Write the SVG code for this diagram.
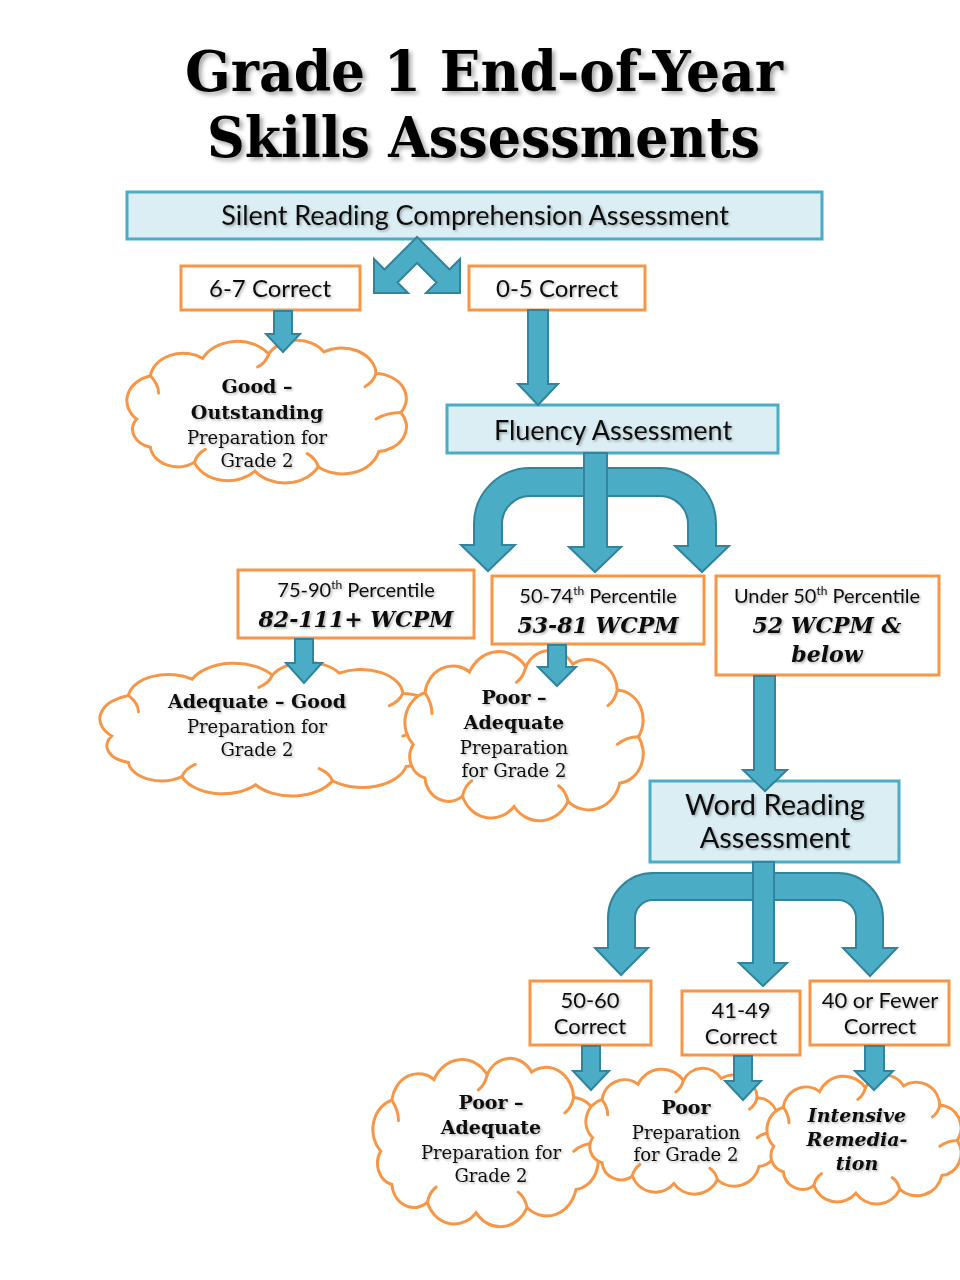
<svg xmlns="http://www.w3.org/2000/svg" xmlns:xlink="http://www.w3.org/1999/xlink" width="960" height="1280" viewBox="0 0 960 1280">
<defs>
<style>
.bb{fill:#DBEEF4;stroke:#4BACC6;stroke-width:3}
.ob{fill:#fff;stroke:#F79646;stroke-width:3}
.ar{fill:#4BACC6;stroke:#31849B;stroke-width:2;stroke-linejoin:miter}
.t{font-family:Lato,"Liberation Sans",sans-serif;fill:#111;text-anchor:middle}
.s{font-family:"DejaVu Serif","Liberation Serif",serif;fill:#111;text-anchor:middle;font-size:18px}
.sb{font-weight:bold;font-size:19px}
.wc{font-family:"DejaVu Serif","Liberation Serif",serif;font-weight:bold;font-style:italic;font-size:22px;fill:#111;text-anchor:middle}
.ti{font-family:"DejaVu Serif","Liberation Serif",serif;font-weight:bold;font-size:56px;fill:#000}
</style>
<filter id="sh" x="-5%" y="-20%" width="110%" height="150%"><feDropShadow dx="1.5" dy="1.5" stdDeviation="1" flood-color="#000" flood-opacity="0.3"/></filter>
<filter id="tsh" x="-5%" y="-20%" width="110%" height="150%"><feDropShadow dx="3" dy="3" stdDeviation="2" flood-color="#000" flood-opacity="0.35"/></filter>
<g id="cloud">
<path d="M 4 70 A 24 24 0 0 1 14 30 A 24 24 0 0 1 52 14 A 28 28 0 0 1 100 10 A 23 23 0 0 1 140 8 A 25 25 0 0 1 178 28 A 23 23 0 0 1 196 64 A 23 23 0 0 1 180 100 A 27 27 0 0 1 136 114 A 27 27 0 0 1 90 118 A 26 26 0 0 1 46 110 A 20 20 0 0 1 14 96 A 17 17 0 0 1 4 70 Z" fill="#fff" stroke="#F79646" stroke-width="3" vector-effect="non-scaling-stroke"/>
<path d="M 14 30 Q 20 38 20 46 M 100 10 Q 98 18 92 22 M 178 28 Q 176 36 170 40 M 196 64 Q 186 64 178 70 M 136 114 Q 134 106 128 102 M 46 110 Q 48 102 54 98" fill="none" stroke="#F79646" stroke-width="3" stroke-linecap="round" vector-effect="non-scaling-stroke"/>
</g>
</defs>
<rect width="960" height="1280" fill="#fff"/>

<g id="title" filter="url(#tsh)">
<text class="ti" x="185" y="91" textLength="598" lengthAdjust="spacingAndGlyphs">Grade 1 End-of-Year</text>
<text class="ti" x="207" y="157" textLength="553" lengthAdjust="spacingAndGlyphs">Skills Assessments</text>
</g>

<g id="silent">
<rect class="bb" x="127" y="192" width="695" height="47"/>
<text class="t" x="475" y="225" font-size="27" filter="url(#sh)">Silent Reading Comprehension Assessment</text>
</g>
<g id="correct67">
<rect class="ob" x="181" y="266" width="179" height="44"/>
<text class="t" x="270" y="297" font-size="24" filter="url(#sh)">6-7 Correct</text>
</g>
<g id="correct05">
<rect class="ob" x="469" y="266" width="176" height="44"/>
<text class="t" x="557" y="297" font-size="24" filter="url(#sh)">0-5 Correct</text>
</g>
<g id="cloudGood">
<use xlink:href="#cloud" href="#cloud" transform="translate(131.1,343.2) scale(1.376,1.083)"/>
<g filter="url(#sh)">
<text class="s sb" x="257" y="393">Good –</text>
<text class="s sb" x="257" y="419">Outstanding</text>
<text class="s" x="257" y="444">Preparation for</text>
<text class="s" x="257" y="467">Grade 2</text>
</g>
</g>
<g id="fluency">
<rect class="bb" x="447" y="405" width="331" height="48"/>
<text class="t" x="613" y="440" font-size="27" filter="url(#sh)">Fluency Assessment</text>
</g>
<g id="p7590">
<rect class="ob" x="238" y="570" width="236" height="68"/>
<g filter="url(#sh)">
<text class="t" x="356" y="597" font-size="20">75-90<tspan font-size="12" dy="-8">th</tspan><tspan dy="8"> Percentile</tspan></text>
<text class="wc" x="356" y="627">82-111+ WCPM</text>
</g>
</g>
<g id="p5074">
<rect class="ob" x="492" y="576" width="212" height="68"/>
<g filter="url(#sh)">
<text class="t" x="598" y="603" font-size="20">50-74<tspan font-size="12" dy="-8">th</tspan><tspan dy="8"> Percentile</tspan></text>
<text class="wc" x="598" y="633">53-81 WCPM</text>
</g>
</g>
<g id="pUnder50">
<rect class="ob" x="716" y="576" width="223" height="99"/>
<g filter="url(#sh)">
<text class="t" x="827" y="603" font-size="20">Under 50<tspan font-size="12" dy="-8">th</tspan><tspan dy="8"> Percentile</tspan></text>
<text class="wc" x="827" y="633">52 WCPM &amp;</text>
<text class="wc" x="827" y="662">below</text>
</g>
</g>
<g id="cloudAdequateGood">
<use xlink:href="#cloud" href="#cloud" transform="translate(105,665) scale(1.673,1.015)"/>
<g filter="url(#sh)">
<text class="s sb" x="257" y="708">Adequate – Good</text>
<text class="s" x="257" y="733">Preparation for</text>
<text class="s" x="257" y="756">Grade 2</text>
</g>
</g>
<g id="cloudPoorAdequate1">
<use xlink:href="#cloud" href="#cloud" transform="translate(408.5,653.9) scale(1.173,1.293)"/>
<g filter="url(#sh)">
<text class="s sb" x="514" y="704">Poor –</text>
<text class="s sb" x="514" y="729">Adequate</text>
<text class="s" x="514" y="754">Preparation</text>
<text class="s" x="514" y="777">for Grade 2</text>
</g>
</g>
<g id="wordReading">
<rect class="bb" x="650" y="781" width="249" height="81"/>
<g filter="url(#sh)">
<text class="t" x="775" y="815" font-size="29">Word Reading</text>
<text class="t" x="775" y="848" font-size="29">Assessment</text>
</g>
</g>
<g id="c5060">
<rect class="ob" x="530" y="981" width="121" height="64"/>
<g filter="url(#sh)">
<text class="t" x="590" y="1008" font-size="22">50-60</text>
<text class="t" x="590" y="1034" font-size="22">Correct</text>
</g>
</g>
<g id="c4149">
<rect class="ob" x="682" y="991" width="118" height="64"/>
<g filter="url(#sh)">
<text class="t" x="741" y="1018" font-size="22">41-49</text>
<text class="t" x="741" y="1044" font-size="22">Correct</text>
</g>
</g>
<g id="c40">
<rect class="ob" x="810" y="981" width="139" height="64"/>
<g filter="url(#sh)">
<text class="t" x="880" y="1008" font-size="22">40 or Fewer</text>
<text class="t" x="880" y="1034" font-size="22">Correct</text>
</g>
</g>
<g id="cloudPoorAdequate2">
<use xlink:href="#cloud" href="#cloud" transform="translate(376.3,1061.8) scale(1.109,1.278)"/>
<g filter="url(#sh)">
<text class="s sb" x="491" y="1109">Poor –</text>
<text class="s sb" x="491" y="1134">Adequate</text>
<text class="s" x="491" y="1159">Preparation for</text>
<text class="s" x="491" y="1182">Grade 2</text>
</g>
</g>
<g id="cloudPoor">
<use xlink:href="#cloud" href="#cloud" transform="translate(588.8,1070.9) scale(0.946,0.955)"/>
<g filter="url(#sh)">
<text class="s sb" x="686" y="1114">Poor</text>
<text class="s" x="686" y="1139">Preparation</text>
<text class="s" x="686" y="1161">for Grade 2</text>
</g>
</g>
<g id="cloudIntensive">
<use xlink:href="#cloud" href="#cloud" transform="translate(769.9,1077.9) scale(0.955,0.977)"/>
<g filter="url(#sh)" font-style="italic">
<text class="s sb" x="857" y="1122">Intensive</text>
<text class="s sb" x="857" y="1146">Remedia-</text>
<text class="s sb" x="857" y="1170">tion</text>
</g>
</g>

<g id="connectors">
<path class="ar" d="M 417 237 L 449.5 269.5 L 460 259 L 460 293 L 426 293 L 436.5 282.5 L 417 263 L 397.5 282.5 L 408 293 L 374 293 L 374 259 L 384.5 269.5 Z"/>
<path class="ar" d="M 274 311 L 292 311 L 292 334 L 300 334 L 283 352 L 266 334 L 274 334 Z"/>
<path class="ar" d="M 528 310 L 548 310 L 548 384 L 558 384 L 538 405 L 518 384 L 528 384 Z"/>
<path class="ar" d="M 660 468 L 530 468 A 56 56 0 0 0 474 524 L 474 545 L 461 545 L 488 571 L 515 545 L 502 545 L 502 524 A 28 28 0 0 1 530 496 L 660 496 A 28 28 0 0 1 688 524 L 688 546 L 675 546 L 702 572 L 729 546 L 716 546 L 716 524 A 56 56 0 0 0 660 468 Z"/>
<path class="ar" d="M 584 453 L 607 453 L 607 547 L 621 547 L 595 572 L 569 547 L 584 547 Z"/>
<path class="ar" d="M 295 639 L 313 639 L 313 663 L 322 663 L 304 683 L 286 663 L 295 663 Z"/>
<path class="ar" d="M 548 645 L 566 645 L 566 667 L 576 667 L 557 686 L 538 667 L 548 667 Z"/>
<path class="ar" d="M 754 676 L 775 676 L 775 770 L 787 770 L 765 791 L 743 770 L 754 770 Z"/>
<path class="ar" d="M 838 873 L 653 873 A 45 45 0 0 0 608 918 L 608 948 L 595 948 L 621 975 L 648 948 L 635 948 L 635 918 A 18 18 0 0 1 653 900 L 838 900 A 18 18 0 0 1 856 918 L 856 948 L 843 948 L 870 976 L 897 948 L 883 948 L 883 918 A 45 45 0 0 0 838 873 Z"/>
<path class="ar" d="M 753 862 L 774 862 L 774 963 L 787 963 L 763 986 L 739 963 L 753 963 Z"/>
<path class="ar" d="M 582 1046 L 600 1046 L 600 1071 L 609 1071 L 591 1090 L 573 1071 L 582 1071 Z"/>
<path class="ar" d="M 734 1056 L 752 1056 L 752 1081 L 761 1081 L 743 1100 L 725 1081 L 734 1081 Z"/>
<path class="ar" d="M 865 1046 L 884 1046 L 884 1071 L 893 1071 L 874 1090 L 855 1071 L 865 1071 Z"/>
</g>
</svg>
